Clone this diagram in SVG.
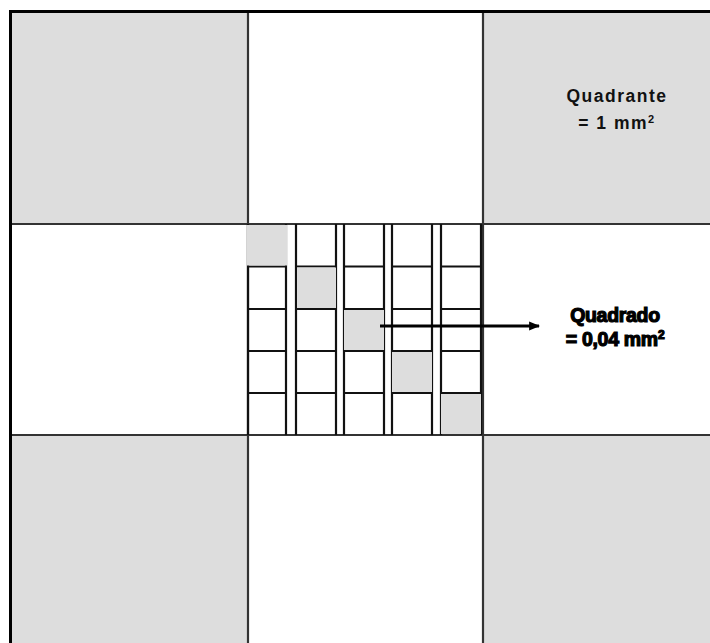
<svg xmlns="http://www.w3.org/2000/svg" width="710" height="643" viewBox="0 0 710 643">
<style>
.g{fill:#dddddd}
.w{fill:#ffffff}
.big{stroke:#333;stroke-width:2.2;fill:none}
.cl{stroke:#111;stroke-width:2.2;fill:none}
.t1{font-family:"Liberation Sans",Arial,sans-serif;font-weight:bold;font-size:17.5px;letter-spacing:1.5px;fill:#111;text-anchor:middle}
.t2{font-family:"Liberation Sans",Arial,sans-serif;font-weight:bold;font-size:19.5px;letter-spacing:-0.3px;fill:#000;stroke:#000;stroke-width:1.2;text-anchor:middle}
</style>
<defs>
<marker id="ah" viewBox="0 0 10 10" refX="9" refY="5" markerWidth="11" markerHeight="11" markerUnits="userSpaceOnUse" orient="auto">
<path d="M0,1 L10,5 L0,9 Z" fill="#000"/>
</marker>
</defs>
<rect x="0" y="0" width="710" height="643" fill="#fff"/>
<g id="quadrants">
<rect class="g" x="11" y="12" width="237" height="212"/>
<rect class="w" x="248" y="12" width="236" height="212"/>
<rect class="g" x="484" y="12" width="226" height="212"/>
<rect class="w" x="11" y="224" width="237" height="211"/>
<rect class="w" x="484" y="224" width="226" height="211"/>
<rect class="g" x="11" y="435" width="237" height="208"/>
<rect class="w" x="248" y="435" width="236" height="208"/>
<rect class="g" x="484" y="435" width="226" height="208"/>
<line class="big" x1="248" y1="12" x2="248" y2="643"/>
<line class="big" x1="483" y1="12" x2="483" y2="643"/>
<line class="big" x1="11" y1="224" x2="710" y2="224"/>
<line class="big" x1="11" y1="435" x2="710" y2="435"/>
<path d="M10.5,643 V11.5 H710" stroke="#000" stroke-width="3" fill="none"/>
</g>
<g id="center-grid">
<g class="cl">
<path d="M248,224V435M286,224V435M247,266.5H286M247,309H286M247,351H286M247,393H286"/>
<path d="M296,224V435M336,224V435M296,266.5H336M296,309H336M296,351H336M296,393H336"/>
<path d="M344,224V435M384,224V435M344,266.5H384M344,309H384M344,351H384M344,393H384"/>
<path d="M392,224V435M432,224V435M392,266.5H432M392,309H432M392,351H432M392,393H432"/>
<path d="M441,224V435M481,224V435M441,266.5H481M441,309H481M441,351H481M441,393H481"/>
</g>
<rect class="g" x="247" y="225" width="40" height="40.5"/>
<rect class="g" x="297" y="267.5" width="39" height="40.5"/>
<rect class="g" x="344" y="310" width="40" height="40"/>
<rect class="g" x="392" y="352" width="40" height="40"/>
<rect class="g" x="441" y="394" width="40" height="40"/>
</g>
<g id="connectors">
<line x1="380" y1="326" x2="539" y2="326" stroke="#000" stroke-width="3" marker-end="url(#ah)"/>
</g>
<g id="label-quadrante">
<text class="t1" x="617" y="102">Quadrante</text>
<text class="t1" x="617" y="129">= 1 mm<tspan font-size="11" dy="-6">2</tspan></text>
</g>
<g id="label-quadrado">
<text class="t2" x="615" y="322">Quadrado</text>
<text class="t2" x="615" y="346">= 0,04 mm<tspan font-size="12" dy="-7">2</tspan></text>
</g>
</svg>
